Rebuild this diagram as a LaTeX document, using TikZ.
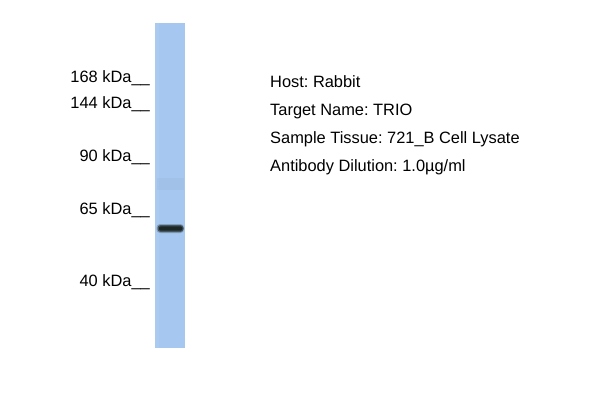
\documentclass[tikz,border=0pt]{standalone}
\usepackage{fontspec}
\setmainfont{Liberation Sans}
\usepackage{tikz}
\usetikzlibrary{positioning}
\definecolor{lane}{RGB}{166, 199, 240}
\definecolor{band}{RGB}{28, 38, 36}
\tikzstyle{marker} = [anchor=base east, inner sep=0pt, font=\fontsize{16.4bp}{18bp}\selectfont]
\tikzstyle{info} = [anchor=base west, inner sep=0pt, font=\fontsize{16.4bp}{18bp}\selectfont]

\begin{document}
\frenchspacing
\begin{tikzpicture}[x=1bp, y=-1bp]
		\useasboundingbox (0,0) rectangle (600,400);
		
		% Lane
		\fill [lane] (155,23) rectangle (185,348);
		\fill [white, opacity=0.06] (155,23) rectangle (159,348);
		\fill [band, opacity=0.03] (157,178) rectangle (184,190);
		
		% Band
		\fill [band, opacity=0.25, rounded corners=3.5] (156.5,224) rectangle (184,233);
		\fill [band, opacity=0.6, rounded corners=3] (157.5,225) rectangle (183.5,232);
		\fill [band, rounded corners=2] (159,226.3) rectangle (182.5,230.7);
		
		% Markers
		\node (m168) [marker] at (150,82.3) {168 kDa\_\_};
		\node (m144) [marker] at (150,108.3) {144 kDa\_\_};
		\node (m90) [marker] at (150,161) {90 kDa\_\_};
		\node (m65) [marker] at (150,214) {65 kDa\_\_};
		\node (m40) [marker] at (150,286.7) {40 kDa\_\_};
		
		% Info
		\node (host) [info] at (270,87) {Host: Rabbit};
		\node (target) [info] at (270,115) {Target Name: TRIO};
		\node (tissue) [info] at (270,143.3) {Sample Tissue: 721\_B Cell Lysate};
		\node (dilution) [info] at (270,171) {Antibody Dilution: 1.0µg/ml};
		
	\end{tikzpicture}
\end{document}
